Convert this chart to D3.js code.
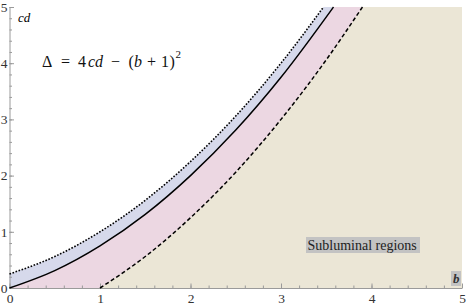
<!DOCTYPE html>
<html>
<head>
<meta charset="utf-8">
<script src="https://cdn.jsdelivr.net/npm/d3@7"></script>
<style>
  body { margin: 0; background: #fff; }
  .axis path, .axis line { stroke: #9a9a9a; }
</style>
</head>
<body>
<div id="chart"></div>
<script>
// points (b, cd)
var dottedB  = [0, 0.5, 1, 1.5, 2, 2.5, 3, 3.47];
var dottedCd = [0.25, 0.56, 1, 1.56, 2.25, 3.06, 4, 5];

var solidB  = [0, 0.5, 1, 1.5, 2, 2.5, 3, 3.58];
var solidCd = [0, 0.31, 0.75, 1.31, 2, 2.81, 3.75, 5];

var dashedB  = [1, 1.5, 2, 2.5, 3, 3.5, 3.9];
var dashedCd = [0, 0.56, 1.25, 2.06, 3, 4.06, 5];

var xTicks = [0, 1, 2, 3, 4, 5];
var yTicks = [0, 1, 2, 3, 4, 5];

var serif = "'Liberation Serif', 'Times New Roman', 'DejaVu Serif', serif";
var width = 467, height = 307;

var x = d3.scaleLinear().domain([0, 5]).range([9.5, 462]);
var y = d3.scaleLinear().domain([0, 5]).range([288, 7]);

var svg = d3.select("#chart").append("svg")
  .attr("width", width)
  .attr("height", height)
  .style("display", "block")
  .style("font-family", serif);

function pts(bs, cds) { return bs.map(function(b, i) { return [b, cds[i]]; }); }

var line = d3.line()
  .x(function(d) { return x(d[0]); })
  .y(function(d) { return y(d[1]); })
  .curve(d3.curveMonotoneX);

// fill everything right of a curve, layered
function rightOf(data) {
  return line(data) + "L" + x(5) + "," + y(5) + "L" + x(5) + "," + y(0) +
    "L" + x(data[0][0]) + "," + y(0) + "Z";
}

var dotted = pts(dottedB, dottedCd);
var solid = pts(solidB, solidCd);
var dashed = pts(dashedB, dashedCd);

svg.append("path").attr("d", rightOf(dotted)).attr("fill", "#d6d9eb");
svg.append("path").attr("d", rightOf(solid)).attr("fill", "#ecd7e2");
svg.append("path").attr("d", rightOf(dashed)).attr("fill", "#ebe6d6");

function styleAxis(g) {
  g.attr("font-family", serif).attr("font-size", 13.5);
  g.selectAll("text").attr("fill", "#333");
}

// axes
svg.append("g")
  .attr("class", "axis")
  .attr("transform", "translate(0," + y(0) + ")")
  .call(d3.axisBottom(x).tickValues(d3.range(0, 5.01, 0.2)).tickSizeInner(-2.5).tickSizeOuter(0).tickFormat(""))
  .call(function(g) { g.select(".domain").remove(); });

svg.append("g")
  .attr("class", "axis")
  .attr("transform", "translate(0," + y(0) + ")")
  .call(d3.axisBottom(x).tickValues(xTicks).tickSizeInner(-4.5).tickSizeOuter(0).tickPadding(5).tickFormat(d3.format("d")))
  .call(styleAxis);

svg.append("g")
  .attr("class", "axis")
  .attr("transform", "translate(" + x(0) + ",0)")
  .call(d3.axisLeft(y).tickValues(d3.range(0, 5.01, 0.2)).tickSizeInner(-2.5).tickSizeOuter(0).tickFormat(""))
  .call(function(g) { g.select(".domain").remove(); });

svg.append("g")
  .attr("class", "axis")
  .attr("transform", "translate(" + x(0) + ",0)")
  .call(d3.axisLeft(y).tickValues(yTicks).tickSizeInner(-4.5).tickSizeOuter(0).tickPadding(2).tickFormat(d3.format("d")))
  .call(styleAxis);

// curves
svg.append("path").attr("d", line(dotted))
  .attr("fill", "none").attr("stroke", "#000").attr("stroke-width", 1.6)
  .attr("stroke-dasharray", "1.6,1.6");
svg.append("path").attr("d", line(solid))
  .attr("fill", "none").attr("stroke", "#000").attr("stroke-width", 1.5);
svg.append("path").attr("d", line(dashed))
  .attr("fill", "none").attr("stroke", "#000").attr("stroke-width", 1.5)
  .attr("stroke-dasharray", "4,2.5");

// labels
svg.append("text").attr("x", 18).attr("y", 22)
  .style("font-style", "italic").style("font-size", "13px").text("cd");

// formula, pieces placed one by one like the Mathematica spacing
var formula = [
  { s: "\u0394", x: 42, it: false },
  { s: "=", x: 61, it: false },
  { s: "4", x: 78, it: false },
  { s: "cd", x: 88, it: true },
  { s: "\u2212", x: 111, it: false },
  { s: "(", x: 128.5, it: false },
  { s: "b", x: 134, it: true },
  { s: "+", x: 147, it: false },
  { s: "1", x: 161, it: false },
  { s: ")", x: 169.5, it: false }
];
var f = svg.append("g").attr("font-size", 16).attr("fill", "#111");
formula.forEach(function(p) {
  f.append("text").attr("x", p.x).attr("y", 67)
    .style("font-style", p.it ? "italic" : "normal").text(p.s);
});
f.append("text").attr("x", 175.5).attr("y", 58).attr("font-size", 11).text("2");

svg.append("rect").attr("x", 306).attr("y", 237).attr("width", 114).attr("height", 16).attr("fill", "#c3c3c3");
svg.append("text").attr("x", 307.5).attr("y", 249.5).style("font-size", "14px").attr("fill", "#222").text("Subluminal regions");

svg.append("rect").attr("x", 451).attr("y", 271).attr("width", 10).attr("height", 15).attr("fill", "#c3c3c3");
svg.append("text").attr("x", 453).attr("y", 283).style("font-style", "italic").style("font-weight", "bold")
  .style("font-size", "13px").attr("fill", "#333").text("b");
</script>
</body>
</html>
